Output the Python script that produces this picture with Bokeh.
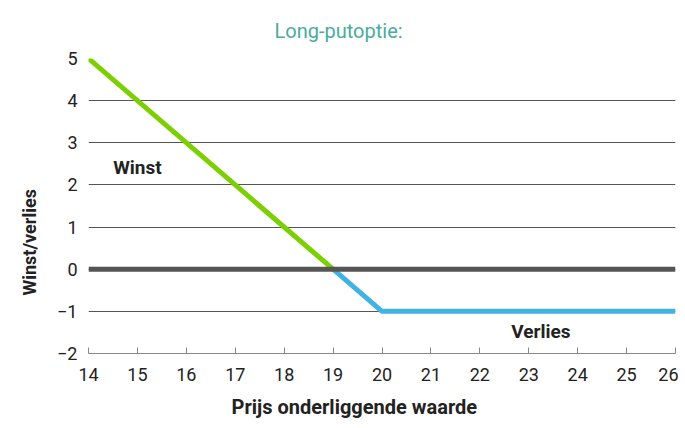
from bokeh.plotting import figure
from bokeh.models import Span, FixedTicker, Title
from bokeh.core.properties import value
from bokeh.embed import file_html
from bokeh.resources import INLINE

# Data
profit_x = [14, 19]
profit_y = [5, 0]
loss_x = [19, 20, 26]
loss_y = [0, -1, -1]
x_ticks = [14, 15, 16, 17, 18, 19, 20, 21, 22, 23, 24, 25, 26]
y_ticks = [-2, -1, 0, 1, 2, 3, 4, 5]
label_texts = ["Winst", "Verlies"]
label_x = [15.0, 23.25]
label_y = [2.42, -1.47]

FONT = "Roboto"

p = figure(width=678, height=428, x_range=(14, 26), y_range=(-2, 5),
           output_backend="svg", toolbar_location=None,
           min_border_left=88, min_border_right=3, min_border_top=55, min_border_bottom=75)
p.outline_line_color = None
p.background_fill_color = "white"

p.title.text = "Long-putoptie:"
p.title.align = "left"
p.title.offset = 186
p.title.text_color = "#4aab9e"
p.title.text_font = FONT
p.title.text_font_style = "normal"
p.title.text_font_size = "20px"
p.title.standoff = 32

# x axis
p.xaxis.ticker = FixedTicker(ticks=x_ticks)
p.xaxis.axis_line_color = "#888888"
p.xaxis.major_tick_line_color = "#888888"
p.xaxis.major_tick_in = 6
p.xaxis.major_tick_out = 0
p.xaxis.minor_tick_line_color = None
p.xaxis.minor_tick_in = 0
p.xaxis.minor_tick_out = 0
p.xaxis.major_label_text_font = FONT
p.xaxis.major_label_text_font_size = "18px"
p.xaxis.major_label_text_color = "#222222"
p.xaxis.major_label_standoff = 14

xlab = Title(text="Prijs onderliggende waarde", align="left", offset=143, standoff=19,
             text_font=FONT, text_font_style="bold", text_font_size="20px",
             text_color="#222222")
p.add_layout(xlab, "below")

# y axis
p.yaxis.ticker = FixedTicker(ticks=y_ticks)
p.yaxis.axis_line_color = None
p.yaxis.major_tick_line_color = None
p.yaxis.minor_tick_line_color = None
p.yaxis.major_tick_in = 0
p.yaxis.major_tick_out = 0
p.yaxis.minor_tick_in = 0
p.yaxis.minor_tick_out = 0
p.yaxis.major_label_text_font = FONT
p.yaxis.major_label_text_font_size = "18px"
p.yaxis.major_label_text_color = "#222222"
p.yaxis.major_label_standoff = 11

ylab = Title(text="Winst/verlies", align="left", offset=58, standoff=30,
             text_font=FONT, text_font_style="bold", text_font_size="18px",
             text_color="#222222")
p.add_layout(ylab, "left")

p.xgrid.grid_line_color = None
p.ygrid.grid_line_color = "#555555"
p.ygrid.grid_line_width = 1

zero = Span(location=0, dimension="width", line_color="#555555", line_width=5)
p.add_layout(zero)

p.line(profit_x, profit_y, line_color="#7ccf00", line_width=5)
p.line(loss_x, loss_y, line_color="#41b3e3", line_width=5)

p.text(x=label_x, y=label_y, text=label_texts, text_font=value(FONT),
       text_font_style="bold", text_font_size="19px", text_color="#222222",
       text_align="center", text_baseline="middle")

open("out.html", "w").write(file_html(p, INLINE))
